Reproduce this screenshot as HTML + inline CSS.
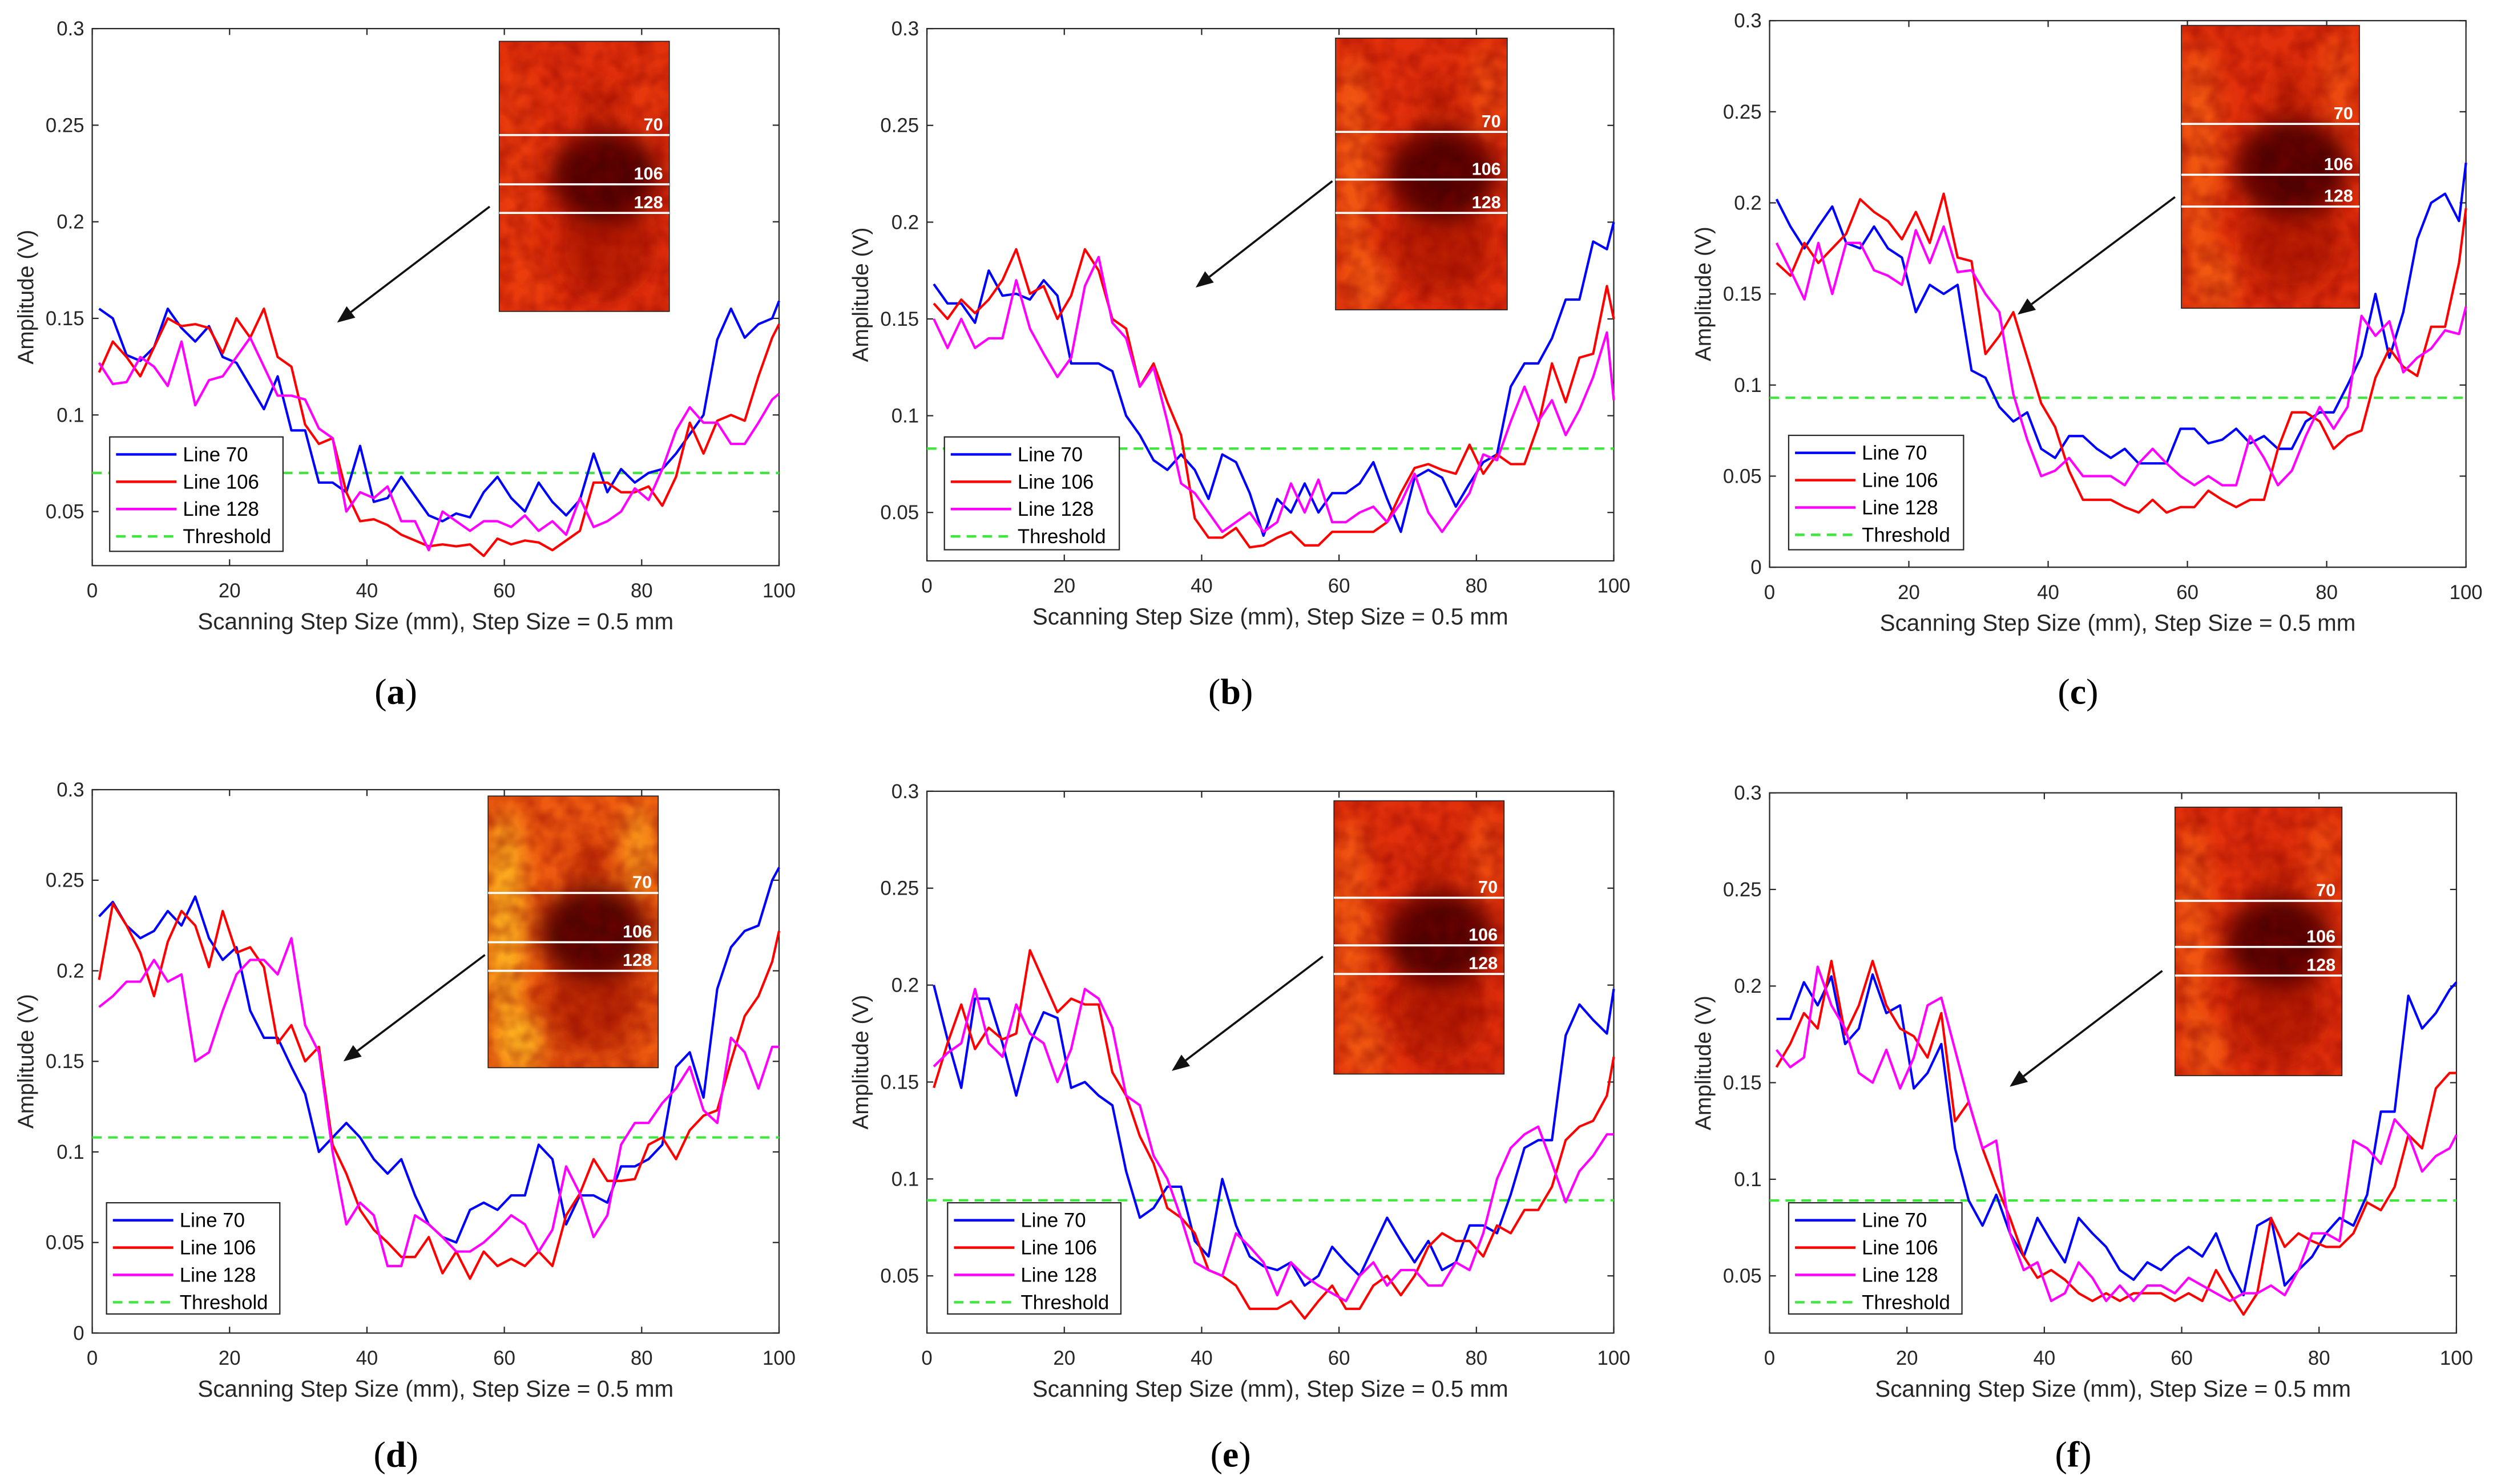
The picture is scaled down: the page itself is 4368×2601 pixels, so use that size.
<!DOCTYPE html>
<html><head><meta charset="utf-8"><style>
html,body{margin:0;padding:0;background:#fff;}
svg{display:block;}
text{font-family:"Liberation Sans",Arial,sans-serif;}
text.cap{font-family:"Liberation Serif","Times New Roman",serif;}
</style></head><body>
<svg id="fig" width="4368" height="2601" viewBox="0 0 1568 934" preserveAspectRatio="none" xmlns="http://www.w3.org/2000/svg">
<defs>
<filter id="blur6" x="-50%" y="-50%" width="200%" height="200%"><feGaussianBlur stdDeviation="7"/></filter>
<filter id="noise" x="0" y="0" width="100%" height="100%">
<feTurbulence type="fractalNoise" baseFrequency="0.09" numOctaves="2" seed="3"/>
<feColorMatrix type="matrix" values="0 0 0 0 0.25  0 0 0 0 0  0 0 0 0 0  0 0 0 -1.6 1.1"/>
</filter>
</defs>
</svg>
<script>
// ---- data (x positions in mm) ----
const xSteps=[1,3,5,7,9,11,13,15,17,19,21,23,25,27,29,31,33,35,37,39,41,43,45,47,49,51,53,55,57,59,61,63,65,67,69,71,73,75,77,79,81,83,85,87,89,91,93,95,97,99,100];
const seriesNames=["Line 70","Line 106","Line 128"];
const thresholds=[0.07,0.083,0.093,0.108,0.089,0.089];
const yTicksA=[0.05,0.1,0.15,0.2,0.25,0.3];
const yTicksC=[0,0.05,0.1,0.15,0.2,0.25,0.3];
const xTicks=[0,20,40,60,80,100];

const aLine70=[.155,.15,.131,.128,.135,.155,.145,.138,.146,.13,.127,.115,.103,.12,.092,.092,.065,.065,.06,.084,.055,.057,.068,.058,.048,.045,.049,.047,.06,.068,.057,.05,.065,.055,.048,.056,.08,.06,.072,.065,.07,.072,.08,.09,.1,.139,.155,.14,.147,.15,.159];
const aLine106=[.122,.138,.13,.12,.135,.15,.146,.147,.145,.132,.15,.14,.155,.13,.125,.095,.085,.088,.06,.045,.046,.043,.038,.035,.032,.033,.032,.033,.027,.036,.033,.035,.034,.03,.035,.04,.065,.065,.06,.06,.063,.053,.068,.096,.08,.097,.1,.097,.12,.14,.147];
const aLine128=[.127,.116,.117,.13,.125,.115,.138,.105,.118,.12,.13,.14,.125,.11,.11,.108,.093,.088,.05,.06,.057,.063,.045,.045,.03,.05,.045,.04,.045,.045,.042,.048,.04,.045,.038,.057,.042,.045,.05,.062,.056,.072,.092,.104,.096,.096,.085,.085,.096,.108,.111];

const bLine70=[.168,.158,.158,.148,.175,.162,.163,.16,.17,.162,.127,.127,.127,.123,.1,.09,.077,.072,.08,.072,.057,.08,.076,.06,.038,.057,.05,.065,.05,.06,.06,.065,.076,.057,.04,.068,.072,.068,.053,.065,.076,.08,.115,.127,.127,.14,.16,.16,.19,.186,.2];
const bLine106=[.158,.15,.16,.153,.16,.17,.186,.163,.167,.15,.162,.186,.175,.15,.145,.115,.127,.107,.09,.047,.037,.037,.042,.032,.033,.037,.04,.033,.033,.04,.04,.04,.04,.045,.06,.073,.075,.072,.07,.085,.07,.08,.075,.075,.095,.127,.107,.13,.132,.167,.15];
const bLine128=[.15,.135,.15,.135,.14,.14,.17,.145,.132,.12,.13,.167,.182,.148,.14,.115,.125,.097,.065,.06,.05,.04,.045,.05,.04,.045,.065,.05,.067,.045,.045,.05,.053,.045,.055,.07,.05,.04,.05,.06,.08,.077,.097,.115,.097,.108,.09,.103,.12,.143,.108];

const cLine70=[.202,.187,.175,.187,.198,.178,.175,.187,.175,.17,.14,.155,.15,.155,.108,.104,.088,.08,.085,.065,.06,.072,.072,.065,.06,.065,.057,.057,.057,.076,.076,.068,.07,.076,.068,.072,.065,.065,.08,.085,.085,.1,.116,.15,.115,.14,.18,.2,.205,.19,.222];
const cLine106=[.167,.16,.178,.167,.175,.183,.202,.195,.19,.18,.195,.178,.205,.17,.168,.117,.127,.14,.115,.09,.077,.053,.037,.037,.037,.033,.03,.037,.03,.033,.033,.042,.037,.033,.037,.037,.065,.085,.085,.08,.065,.072,.075,.104,.12,.11,.105,.132,.132,.167,.197];
const cLine128=[.178,.163,.147,.178,.15,.178,.178,.163,.16,.155,.185,.167,.187,.162,.163,.15,.14,.095,.07,.05,.053,.06,.05,.05,.05,.045,.057,.065,.057,.05,.045,.05,.045,.045,.072,.06,.045,.053,.072,.088,.076,.088,.138,.127,.135,.107,.115,.12,.13,.128,.143];

const dLine70=[.23,.238,.225,.218,.222,.233,.225,.241,.218,.206,.213,.178,.163,.163,.147,.132,.1,.108,.116,.108,.096,.088,.096,.076,.06,.053,.05,.068,.072,.068,.076,.076,.104,.096,.06,.076,.076,.072,.092,.092,.096,.104,.147,.155,.13,.19,.213,.222,.225,.25,.257];
const dLine106=[.195,.237,.225,.21,.186,.216,.233,.225,.202,.233,.21,.213,.202,.16,.17,.15,.158,.104,.088,.068,.057,.05,.042,.042,.053,.033,.045,.03,.045,.037,.041,.037,.045,.037,.065,.077,.096,.084,.084,.085,.104,.108,.096,.112,.12,.123,.15,.175,.186,.205,.222];
const dLine128=[.18,.186,.194,.194,.206,.194,.198,.15,.155,.178,.198,.206,.206,.198,.218,.17,.155,.1,.06,.072,.065,.037,.037,.065,.06,.053,.045,.045,.05,.057,.065,.06,.045,.057,.092,.077,.053,.065,.104,.116,.116,.127,.135,.147,.123,.116,.163,.155,.135,.158,.158];

const eLine70=[.2,.172,.147,.193,.193,.17,.143,.17,.186,.183,.147,.15,.143,.138,.104,.08,.085,.096,.096,.068,.06,.1,.076,.06,.055,.053,.057,.045,.05,.065,.057,.05,.065,.08,.068,.057,.068,.053,.057,.076,.076,.072,.092,.116,.12,.12,.174,.19,.182,.175,.198];
const eLine106=[.147,.17,.19,.167,.178,.172,.175,.218,.202,.186,.193,.19,.19,.155,.143,.122,.108,.085,.08,.072,.053,.05,.045,.033,.033,.033,.037,.028,.037,.045,.033,.033,.045,.05,.04,.05,.065,.072,.068,.068,.06,.076,.072,.084,.084,.096,.12,.127,.13,.143,.163];
const eLine128=[.158,.165,.17,.198,.17,.163,.19,.175,.17,.15,.167,.198,.193,.178,.143,.138,.112,.1,.08,.057,.053,.05,.072,.065,.057,.04,.057,.05,.045,.041,.037,.05,.057,.045,.053,.053,.045,.045,.057,.053,.072,.1,.116,.123,.127,.108,.088,.104,.112,.123,.123];

const fLine70=[.183,.183,.202,.19,.205,.17,.178,.206,.186,.19,.147,.155,.17,.116,.089,.076,.092,.072,.06,.08,.068,.057,.08,.072,.065,.053,.048,.057,.053,.06,.065,.06,.072,.053,.04,.076,.08,.045,.053,.06,.072,.08,.076,.092,.135,.135,.195,.178,.186,.198,.202];
const fLine106=[.158,.17,.186,.178,.213,.175,.19,.213,.19,.178,.174,.163,.186,.13,.14,.116,.097,.08,.06,.049,.053,.048,.041,.037,.041,.037,.041,.041,.041,.037,.041,.037,.053,.041,.03,.041,.08,.065,.072,.068,.065,.065,.072,.088,.084,.096,.123,.116,.147,.155,.155];
const fLine128=[.167,.158,.163,.21,.19,.178,.155,.15,.167,.147,.163,.19,.194,.167,.14,.116,.12,.072,.053,.057,.037,.041,.057,.049,.037,.045,.037,.045,.045,.041,.049,.045,.041,.037,.041,.041,.045,.04,.053,.072,.072,.068,.12,.116,.108,.131,.123,.104,.112,.116,.123];

const panelSeries=[[aLine70,aLine106,aLine128],[bLine70,bLine106,bLine128],[cLine70,cLine106,cLine128],[dLine70,dLine106,dLine128],[eLine70,eLine106,eLine128],[fLine70,fLine106,fLine128]];
const captions=["a","b","c","d","e","f"];

// ---- layout ----
const layout=[
 {L:58,R:490,T:18,B:356,ymin:0.022,ticks:yTicksA,inset:[314,26,107,170],lines:[85,116,134],arrow:[308,130,212,203],leg:[69,275,109,72],warm:0},
 {L:583,R:1015,T:18,B:353,ymin:0.025,ticks:yTicksA,inset:[840,24,108,171],lines:[83,113,134],arrow:[838,114,752,181],leg:[594,275,110,71],warm:0.3},
 {L:1113,R:1551,T:13,B:357,ymin:0,ticks:yTicksC,inset:[1372,16,112,178],lines:[78,110,130],arrow:[1368,124,1269,198],leg:[1125,274,110,72],warm:0.5},
 {L:58,R:490,T:497,B:839,ymin:0,ticks:yTicksC,inset:[307,501,107,171],lines:[562,593,611],arrow:[305,601,216,668],leg:[67,757,109,70],warm:1},
 {L:583,R:1015,T:498,B:839,ymin:0.0205,ticks:yTicksA,inset:[839,504,107,172],lines:[565,595,613],arrow:[832,602,737,674],leg:[596,757,109,70],warm:0.4},
 {L:1113,R:1545,T:499,B:839,ymin:0.0204,ticks:yTicksA,inset:[1368,508,105,169],lines:[567,596,614],arrow:[1360,611,1264,684],leg:[1125,757,109,70],warm:0.5}
];
const colors=["#0000ff","#ff0000","#ff00ff"];
const NS="http://www.w3.org/2000/svg";
const svg=document.getElementById("fig");
function mk(tag,attrs,parent){const e=document.createElementNS(NS,tag);for(const k in attrs)e.setAttribute(k,attrs[k]);(parent||svg).appendChild(e);return e;}

layout.forEach((p,pi)=>{
 const g=mk("g",{});
 
 
 const sx=v=>p.L+(v-0)/(100-0)*(p.R-p.L);
 const sy=v=>p.B-(v-p.ymin)/(0.3-p.ymin)*(p.B-p.T);
 const box=mk("rect",{x:p.L,y:p.T,width:p.R-p.L,height:p.B-p.T,fill:"#fff",stroke:"#262626","stroke-width":0.8},g);
 
 
 p.ticks.forEach(t=>{
  const y=sy(t);
  mk("line",{x1:p.L,x2:p.L+4,y1:y,y2:y,stroke:"#262626","stroke-width":0.8},g);
  mk("line",{x1:p.R,x2:p.R-4,y1:y,y2:y,stroke:"#262626","stroke-width":0.8},g);
  const tl=mk("text",{x:p.L-5,y:y+4.3,"font-size":12.5,"text-anchor":"end",fill:"#262626"},g);
  tl.textContent=String(t);
  
  
 });
 xTicks.forEach(t=>{
  const x=sx(t);
  mk("line",{x1:x,x2:x,y1:p.B,y2:p.B-4,stroke:"#262626","stroke-width":0.8},g);
  mk("line",{x1:x,x2:x,y1:p.T,y2:p.T+4,stroke:"#262626","stroke-width":0.8},g);
  const tl=mk("text",{x:x,y:p.B+20,"font-size":12.5,"text-anchor":"middle",fill:"#262626"},g);
  tl.textContent=String(t);
  
  
 });
 const xl=mk("text",{x:(p.L+p.R)/2,y:p.B+40,"font-size":14.5,"text-anchor":"middle",fill:"#262626"},g);
 xl.textContent="Scanning Step Size (mm), Step Size = 0.5 mm";
 
 
 const ym=(p.T+p.B)/2, yx=p.L-37;
 const yl=mk("text",{x:yx,y:ym,"font-size":14,"text-anchor":"middle",fill:"#262626",transform:`rotate(-90 ${yx} ${ym})`},g);
 yl.textContent="Amplitude (V)";
 
 
 const ty=sy(thresholds[pi]);
 const th=mk("line",{x1:p.L,x2:p.R,y1:ty,y2:ty,stroke:"#3ee63e","stroke-width":1.5,"stroke-dasharray":"6 4"},g);
 
 
 panelSeries[pi].forEach((vals,si)=>{
  const d=vals.map((v,i)=>(i?"L":"M")+sx(xSteps[i]).toFixed(2)+","+sy(v).toFixed(2)).join("");
  const pl=mk("path",{d:d,fill:"none",stroke:colors[si],"stroke-width":1.5,"stroke-linejoin":"round"},g);
  
  
 });
 // inset heatmap
 const [ix,iy,iw,ih]=p.inset;
 const cid="clip"+pi;
 const cp=mk("clipPath",{id:cid},svg.querySelector("defs"));
 mk("rect",{x:ix,y:iy,width:iw,height:ih},cp);
 const ig=mk("g",{"clip-path":`url(#${cid})`},g);
 
 
 mk("rect",{x:ix,y:iy,width:iw,height:ih,fill:p.warm>0.8?"#ee5a10":"#e2300c"},ig);
 const warm=p.warm>0.8?"#ffc020":(p.warm>0.2?"#ff7a14":"#f24a10");
 const wo=p.warm>0.8?0.85:0.55;
 mk("ellipse",{cx:ix+iw*0.1,cy:iy+ih*0.45,rx:iw*0.12,ry:ih*0.4,fill:warm,opacity:wo,filter:"url(#blur6)"},ig);
 mk("ellipse",{cx:ix+iw*0.18,cy:iy+ih*0.9,rx:iw*0.15,ry:ih*0.12,fill:warm,opacity:wo,filter:"url(#blur6)"},ig);
 mk("ellipse",{cx:ix+iw*0.88,cy:iy+ih*0.2,rx:iw*0.1,ry:ih*0.18,fill:warm,opacity:wo*0.7,filter:"url(#blur6)"},ig);
 mk("ellipse",{cx:ix+iw*0.6,cy:iy+ih*0.25,rx:iw*0.1,ry:ih*0.1,fill:"#b01c06",opacity:0.6,filter:"url(#blur6)"},ig);
 mk("ellipse",{cx:ix+iw*0.62,cy:iy+ih*0.75,rx:iw*0.28,ry:ih*0.2,fill:"#a81804",opacity:0.7,filter:"url(#blur6)"},ig);
 mk("ellipse",{cx:ix+iw*0.62,cy:iy+ih*0.5,rx:iw*0.32,ry:ih*0.17,fill:"#4a0200",opacity:0.95,filter:"url(#blur6)"},ig);
 mk("rect",{x:ix,y:iy,width:iw,height:ih,fill:"#000",filter:"url(#noise)",opacity:0.5},ig);
 mk("rect",{x:ix,y:iy,width:iw,height:ih,fill:"none",stroke:"#222","stroke-width":0.6},g);
 ["70","106","128"].forEach((lab,li)=>{
  const ly=p.lines[li];
  const ln=mk("line",{x1:ix,x2:ix+iw,y1:ly,y2:ly,stroke:"#fff","stroke-width":1.3},g);
  
  
  const lt=mk("text",{x:ix+iw-4,y:ly-3,"font-size":11,"font-weight":"bold","text-anchor":"end",fill:"#fff"},g);
  lt.textContent=lab;
  
  
 });
 const [ax1,ay1,ax2,ay2]=p.arrow;
 const ang=Math.atan2(ay2-ay1,ax2-ax1);
 const hl=11,hw=4.5;
 const bx=ax2-hl*Math.cos(ang),by=ay2-hl*Math.sin(ang);
 const ar=mk("g",{},g);
 
 
 mk("line",{x1:ax1,y1:ay1,x2:bx,y2:by,stroke:"#111","stroke-width":1.3},ar);
 mk("polygon",{points:`${ax2},${ay2} ${bx+hw*Math.sin(ang)},${by-hw*Math.cos(ang)} ${bx-hw*Math.sin(ang)},${by+hw*Math.cos(ang)}`,fill:"#111"},ar);
 const [lx,ly,lw,lh]=p.leg;
 const lg=mk("g",{},g);
 
 
 mk("rect",{x:lx,y:ly,width:lw,height:lh,fill:"#fff",stroke:"#262626","stroke-width":0.8},lg);
 const items=[[seriesNames[0],colors[0],null],[seriesNames[1],colors[1],null],[seriesNames[2],colors[2],null],["Threshold","#3ee63e","6 4"]];
 items.forEach((it,k)=>{
  const yy=ly+11+k*17.2;
  const e=mk("g",{},lg);
  
  
  const a={x1:lx+4,x2:lx+42,y1:yy,y2:yy,stroke:it[1],"stroke-width":1.6};
  if(it[2])a["stroke-dasharray"]=it[2];
  mk("line",a,e);
  const t=mk("text",{x:lx+46,y:yy+4.3,"font-size":12.5,fill:"#000"},e);
  t.textContent=it[0];
 });
 const cy=pi<3?443:923;
 const cap=mk("text",{x:(p.L+p.R)/2-25,y:cy,"font-size":23,"text-anchor":"middle",fill:"#000","class":"cap"},svg);
 cap.innerHTML='(<tspan font-weight="bold">'+captions[pi]+'</tspan>)';
 
 
});
</script>
</body></html>
